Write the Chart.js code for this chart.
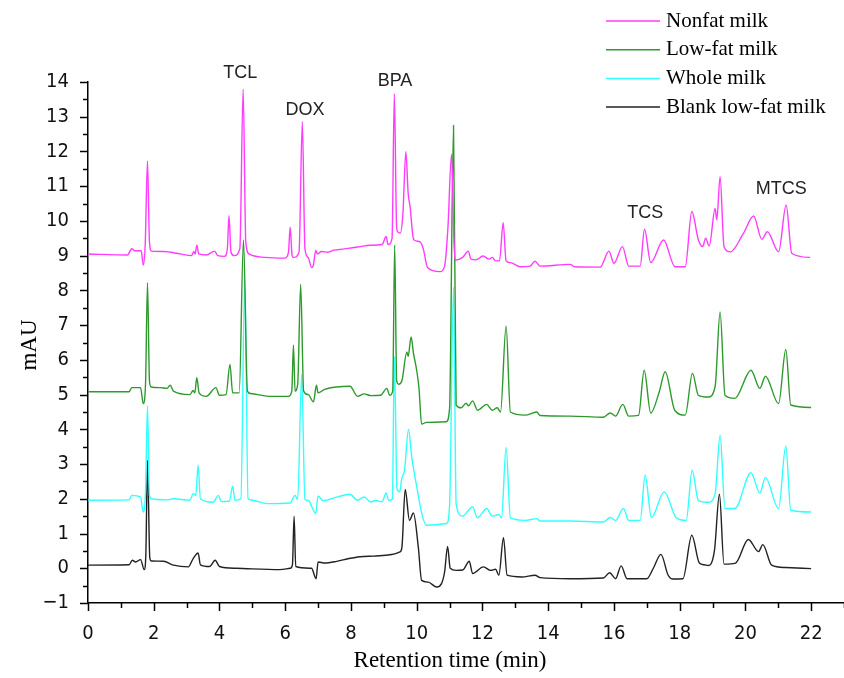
<!DOCTYPE html>
<html>
<head>
<meta charset="utf-8">
<script src="https://cdn.jsdelivr.net/npm/chart.js@4.4.0/dist/chart.umd.min.js"></script>
<style>
  html, body { margin: 0; padding: 0; background: #fff; }
  #wrap { width: 844px; height: 678px; }
</style>
</head>
<body>
<div id="wrap"><canvas id="chrom" width="844" height="678"></canvas></div>
<script>
// retention time (min) and absorbance (mAU)
const seriesNames = ['Nonfat milk', 'Low-fat milk', 'Whole milk', 'Blank low-fat milk'];
const seriesColors = ['#ff3cff', '#2e9a2e', '#33ffff', '#222222'];

const nonfatTime = [0, 1.2, 1.33, 1.42, 1.62, 1.68, 1.74, 1.81, 1.87, 1.93, 2.3, 2.8, 3.15, 3.22, 3.26, 3.31, 3.37, 3.6, 3.85, 3.95, 4.15, 4.24, 4.29, 4.35, 4.45, 4.62, 4.72, 4.8, 4.9, 5.4, 6.0, 6.1, 6.15, 6.21, 6.25, 6.42, 6.52, 6.6, 6.7, 6.8, 6.85, 6.93, 6.98, 7.1, 7.3, 7.48, 7.6, 8.0, 8.28, 8.58, 8.95, 9.07, 9.13, 9.25, 9.32, 9.39, 9.42, 9.5, 9.58, 9.67, 9.74, 9.8, 9.88, 9.92, 10.1, 10.2, 10.33, 10.71, 10.85, 10.95, 11.06, 11.13, 11.17, 11.4, 11.57, 11.65, 11.8, 12.02, 12.2, 12.3, 12.4, 12.52, 12.63, 12.72, 12.85, 13.15, 13.45, 13.6, 13.75, 14.67, 14.8, 15.58, 15.85, 16.0, 16.26, 16.45, 16.8, 16.93, 17.12, 17.51, 17.86, 18.17, 18.37, 18.57, 18.7, 18.79, 18.9, 19.08, 19.13, 19.23, 19.35, 19.54, 19.94, 20.25, 20.5, 20.67, 21.01, 21.24, 21.41, 21.97];
const nonfatMAU = [9.05, 9.02, 9.2, 9.14, 9.14, 8.73, 9.3, 11.73, 9.4, 9.13, 9.12, 9.05, 9.0, 9.12, 9.05, 9.3, 9.05, 9.02, 9.13, 9.0, 8.98, 9.2, 10.15, 9.1, 9.0, 9.2, 13.79, 9.4, 9.05, 8.95, 8.93, 9.1, 9.82, 9.0, 8.95, 9.1, 12.86, 9.2, 8.95, 8.66, 8.7, 9.15, 9.05, 9.12, 9.1, 9.16, 9.17, 9.22, 9.26, 9.3, 9.32, 9.55, 9.32, 9.5, 13.66, 9.8, 9.69, 9.65, 10.2, 11.99, 10.8, 10.4, 9.6, 9.45, 9.4, 9.2, 8.66, 8.54, 8.7, 9.8, 11.92, 9.5, 8.87, 8.95, 9.13, 8.9, 8.88, 8.99, 8.9, 8.95, 8.85, 8.85, 9.95, 8.85, 8.8, 8.68, 8.7, 8.84, 8.7, 8.75, 8.68, 8.67, 9.13, 8.78, 9.26, 8.7, 8.7, 9.76, 8.8, 9.45, 8.68, 8.68, 10.27, 9.45, 9.26, 9.5, 9.28, 10.36, 10.03, 11.27, 9.26, 9.11, 9.64, 10.14, 9.47, 9.69, 9.11, 10.46, 9.07, 8.95];

const lowfatTime = [0, 1.25, 1.33, 1.6, 1.68, 1.75, 1.81, 1.87, 1.92, 2.2, 2.4, 2.5, 2.6, 3.1, 3.2, 3.25, 3.31, 3.38, 3.6, 3.89, 4.0, 4.2, 4.32, 4.4, 4.6, 4.73, 4.85, 4.95, 5.5, 6.1, 6.2, 6.25, 6.3, 6.38, 6.47, 6.56, 6.7, 6.86, 6.95, 7.0, 7.2, 7.57, 7.97, 8.2, 8.4, 8.6, 8.9, 9.09, 9.18, 9.27, 9.33, 9.39, 9.45, 9.55, 9.7, 9.74, 9.83, 9.9, 10.0, 10.07, 10.15, 10.3, 10.9, 11.0, 11.12, 11.2, 11.35, 11.5, 11.58, 11.7, 11.85, 12.13, 12.3, 12.45, 12.55, 12.72, 12.85, 13.3, 13.65, 13.75, 14.67, 15.68, 15.89, 16.05, 16.27, 16.45, 16.75, 16.92, 17.12, 17.38, 17.56, 17.85, 18.17, 18.39, 18.57, 18.87, 19.08, 19.23, 19.38, 19.68, 20.17, 20.44, 20.61, 21.01, 21.23, 21.38, 22.0];
const lowfatMAU = [5.08, 5.08, 5.2, 5.2, 4.74, 5.3, 8.22, 5.4, 5.22, 5.2, 5.18, 5.27, 5.1, 5.0, 5.12, 5.05, 5.49, 5.05, 4.95, 5.2, 4.98, 5.0, 5.87, 5.05, 5.05, 9.45, 5.1, 5.03, 4.95, 4.95, 5.1, 6.42, 5.1, 5.3, 8.18, 5.1, 5.0, 4.79, 5.27, 5.05, 5.15, 5.22, 5.24, 4.95, 5.02, 4.97, 4.98, 5.18, 4.98, 5.1, 9.3, 5.4, 5.3, 5.4, 6.23, 6.1, 6.66, 6.2, 5.7, 5.18, 4.15, 4.2, 4.22, 4.6, 12.75, 4.7, 4.62, 4.75, 4.68, 4.82, 4.55, 4.72, 4.55, 4.62, 4.5, 6.98, 4.5, 4.41, 4.5, 4.4, 4.38, 4.35, 4.47, 4.38, 4.72, 4.38, 4.4, 5.7, 4.47, 5.08, 5.66, 4.55, 4.41, 5.61, 4.98, 4.93, 5.24, 7.38, 4.98, 4.89, 5.7, 5.18, 5.53, 4.74, 6.3, 4.7, 4.63];

const wholeTime = [0, 1.25, 1.33, 1.6, 1.68, 1.75, 1.81, 1.87, 1.93, 2.4, 2.6, 3.1, 3.2, 3.28, 3.35, 3.42, 3.8, 3.97, 4.05, 4.3, 4.4, 4.47, 4.65, 4.77, 4.87, 5.0, 5.44, 6.15, 6.3, 6.38, 6.5, 6.6, 6.7, 6.93, 7.0, 7.15, 7.57, 7.97, 8.2, 8.4, 8.6, 8.75, 8.95, 9.07, 9.15, 9.26, 9.32, 9.4, 9.48, 9.55, 9.63, 9.75, 9.85, 10.02, 10.15, 10.29, 10.91, 11.0, 11.12, 11.2, 11.4, 11.6, 11.7, 11.85, 12.13, 12.3, 12.5, 12.58, 12.72, 12.85, 13.3, 13.65, 13.75, 14.67, 15.68, 15.89, 16.05, 16.29, 16.45, 16.8, 16.95, 17.14, 17.53, 17.9, 18.2, 18.38, 18.57, 18.87, 19.08, 19.23, 19.38, 19.68, 20.17, 20.44, 20.61, 21.01, 21.23, 21.38, 22.0];
const wholeMAU = [1.96, 1.97, 2.1, 2.05, 1.62, 2.2, 4.67, 2.1, 2.0, 1.97, 2.0, 1.96, 2.15, 2.1, 2.97, 2.0, 1.9, 2.1, 1.92, 1.93, 2.36, 1.96, 2.0, 8.3, 2.0, 1.96, 1.86, 1.88, 2.1, 1.98, 5.59, 1.98, 1.95, 1.58, 2.08, 1.95, 2.05, 2.13, 1.96, 2.05, 1.91, 1.95, 1.92, 2.17, 1.95, 2.0, 6.09, 2.3, 2.2, 2.6, 2.82, 4.0, 3.2, 2.25, 1.6, 1.24, 1.29, 1.8, 8.1, 1.85, 1.5, 1.7, 1.77, 1.45, 1.72, 1.5, 1.55, 1.45, 3.48, 1.45, 1.38, 1.43, 1.36, 1.36, 1.33, 1.46, 1.38, 1.72, 1.38, 1.38, 2.68, 1.46, 2.2, 1.45, 1.38, 2.82, 1.95, 1.9, 2.15, 3.83, 1.72, 1.72, 2.75, 2.17, 2.61, 1.72, 3.52, 1.67, 1.62];

const blankTime = [0, 1.25, 1.35, 1.45, 1.6, 1.71, 1.76, 1.81, 1.88, 1.93, 2.3, 2.6, 3.05, 3.2, 3.35, 3.42, 3.7, 3.87, 4.0, 4.5, 5.84, 6.15, 6.22, 6.27, 6.32, 6.8, 6.94, 7.0, 7.2, 7.57, 7.8, 8.28, 8.7, 9.13, 9.49, 9.55, 9.65, 9.78, 9.9, 10.05, 10.15, 10.35, 10.61, 10.75, 10.85, 10.94, 11.02, 11.2, 11.4, 11.6, 11.7, 12.03, 12.25, 12.4, 12.5, 12.64, 12.75, 13.2, 13.6, 13.75, 14.67, 15.68, 15.87, 16.05, 16.22, 16.4, 17.0, 17.2, 17.43, 17.65, 17.8, 18.1, 18.37, 18.6, 18.75, 18.87, 19.06, 19.21, 19.35, 19.7, 20.09, 20.4, 20.53, 20.8, 21.23, 22.0];
const blankMAU = [0.09, 0.1, 0.23, 0.18, 0.25, -0.04, 0.4, 3.11, 0.3, 0.21, 0.2, 0.09, 0.04, 0.28, 0.44, 0.1, 0.05, 0.23, 0.05, 0.0, -0.04, 0.0, 0.1, 1.5, 0.05, 0.0, -0.3, 0.18, 0.15, 0.2, 0.25, 0.33, 0.35, 0.38, 0.47, 0.6, 2.27, 1.38, 1.59, 0.6, -0.35, -0.4, -0.54, -0.45, -0.1, 0.63, 0.0, -0.06, -0.05, 0.2, -0.15, 0.04, -0.06, -0.03, -0.2, 0.88, -0.2, -0.25, -0.2, -0.27, -0.3, -0.28, -0.13, -0.3, 0.07, -0.3, -0.3, 0.0, 0.4, -0.2, -0.31, -0.3, 0.95, 0.15, 0.1, 0.08, 0.52, 2.13, 0.12, 0.15, 0.83, 0.48, 0.68, 0.09, 0.02, -0.01];

// peak labels: name, retention time and height where the label sits
const peakLabels = ['TCL', 'DOX', 'BPA', 'TCS', 'MTCS'];
const peakLabelTime = [4.63, 6.6, 9.34, 16.95, 21.09];
const peakLabelMAU = [14.26, 13.18, 14.04, 10.24, 10.93];

const xTickLabels = [0, 2, 4, 6, 8, 10, 12, 14, 16, 18, 20, 22];

const allTimes = [nonfatTime, lowfatTime, wholeTime, blankTime];
const allValues = [nonfatMAU, lowfatMAU, wholeMAU, blankMAU];

const serif = '"Liberation Serif", "DejaVu Serif", serif';
const tickFont = '"DejaVu Sans Condensed", "Liberation Sans Narrow", "Liberation Sans", Arial, sans-serif';
const sans = '"Liberation Sans", Arial, sans-serif';

const datasets = seriesNames.map((name, i) => ({
  label: name,
  data: allTimes[i].map((t, j) => ({ x: t, y: allValues[i][j] })),
  borderColor: seriesColors[i],
  borderWidth: 1.4,
  pointRadius: 0,
  cubicInterpolationMode: 'monotone',
  fill: false
}));

// extra drawing: minor ticks, axis titles, peak labels, legend
const decorPlugin = {
  id: 'decor',
  afterDraw(chart) {
    const ctx = chart.ctx;
    const xs = chart.scales.x;
    const ys = chart.scales.y;
    const area = chart.chartArea;
    ctx.save();
    ctx.strokeStyle = '#000';
    ctx.lineWidth = 1.5;
    // x ticks
    for (let v = 0; v <= 23; v++) {
      const px = Math.round(xs.getPixelForValue(v)) + 0.5;
      const len = v % 2 === 0 ? 8 : 5;
      ctx.beginPath();
      ctx.moveTo(px, area.bottom);
      ctx.lineTo(px, area.bottom + len);
      ctx.stroke();
    }
    // y ticks
    for (let v = -1; v <= 14; v += 0.5) {
      const py = Math.round(ys.getPixelForValue(v)) + 0.5;
      const len = Number.isInteger(v) ? 8 : 5;
      ctx.beginPath();
      ctx.moveTo(area.left, py);
      ctx.lineTo(area.left - len, py);
      ctx.stroke();
    }

    ctx.fillStyle = '#000';
    // axis titles
    ctx.font = '23px ' + serif;
    ctx.textAlign = 'center';
    ctx.textBaseline = 'middle';
    ctx.fillText('Retention time (min)', 450, 661);
    ctx.save();
    ctx.translate(30, 345);
    ctx.rotate(-Math.PI / 2);
    ctx.fillText('mAU', 0, 0);
    ctx.restore();

    // peak labels
    ctx.font = '18px ' + sans;
    ctx.fillStyle = '#222';
    peakLabels.forEach((lab, i) => {
      ctx.fillText(lab, xs.getPixelForValue(peakLabelTime[i]), ys.getPixelForValue(peakLabelMAU[i]));
    });

    // legend
    ctx.font = '21px ' + serif;
    ctx.textAlign = 'left';
    ctx.fillStyle = '#000';
    seriesNames.forEach((name, i) => {
      const y = 21 + i * 28.7;
      ctx.strokeStyle = seriesColors[i];
      ctx.lineWidth = 1.5;
      ctx.beginPath();
      ctx.moveTo(606, y);
      ctx.lineTo(660, y);
      ctx.stroke();
      ctx.fillText(name, 666, y);
    });
    ctx.restore();
  }
};

new Chart(document.getElementById('chrom'), {
  type: 'line',
  data: { datasets },
  options: {
    responsive: false,
    animation: false,
    layout: { padding: { top: 82, right: 0, left: 0, bottom: 0 } },
    plugins: { legend: { display: false }, tooltip: { enabled: false } },
    scales: {
      x: {
        type: 'linear',
        min: 0,
        max: 23,
        afterFit(scale) { scale.height = 75; },
        afterBuildTicks(scale) {
          scale.ticks = xTickLabels.map(v => ({ value: v }));
        },
        grid: { display: false },
        border: { display: true, color: '#000', width: 1.5 },
        ticks: {
          color: '#111',
          font: { family: tickFont, size: 20 },
          padding: 11,
          maxRotation: 0,
          autoSkip: false
        }
      },
      y: {
        min: -1,
        max: 14,
        afterFit(scale) { scale.width = 88; },
        grid: { display: false },
        border: { display: true, color: '#000', width: 1.5 },
        ticks: {
          stepSize: 1,
          color: '#111',
          font: { family: tickFont, size: 20 },
          padding: 11,
          callback: v => String(v).replace('-', '\u2212')
        }
      }
    }
  },
  plugins: [decorPlugin]
});
</script>
</body>
</html>
